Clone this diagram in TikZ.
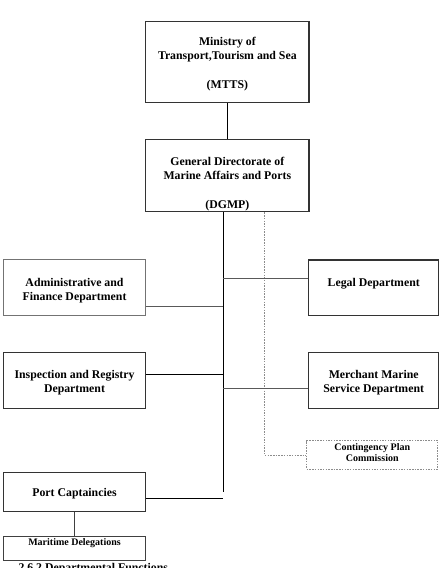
\documentclass[tikz,border=0pt]{standalone}
\usepackage{fontspec}
\setmainfont{Liberation Serif}
\begin{document}
\begin{tikzpicture}[x=1pt,y=-1pt,
  boxthick/.style={draw=black!80,line width=1.5pt,inner sep=0pt},
  boxthin/.style={draw=black!55,line width=0.9pt,inner sep=0pt},
  boxdash/.style={draw=black!45,line width=0.6pt,dash pattern=on 1.5pt off 1.2pt,inner sep=0pt},
  txt/.style={align=center,inner sep=0pt,font=\fontsize{11.8}{13.8}\selectfont\bfseries},
  smalltxt/.style={align=center,inner sep=0pt,font=\fontsize{10}{11}\selectfont\bfseries},
  conn/.style={draw=black,line width=1pt},
  conngray/.style={draw=black!65,line width=1pt},
  dashconn/.style={draw=black!45,line width=0.6pt,dash pattern=on 1.5pt off 1.2pt}]
\useasboundingbox (0,0) rectangle (443,568);

% boxes
\node[boxthick,minimum width=163.3pt,minimum height=81pt] (mttsb) at (227.35,62.2) {};
\node[txt] (mttst) at (227.35,63.8) {Ministry of\\Transport,Tourism and Sea\\[15.2pt](MTTS)};

\node[boxthick,minimum width=163.3pt,minimum height=72.4pt] (dgmpb) at (227.35,175.5) {};
\node[txt] (dgmpt) at (227.35,184.4) {General Directorate of\\Marine Affairs and Ports\\[15.5pt](DGMP)};

\node[boxthin,minimum width=142.4pt,minimum height=56pt] (adminb) at (74.5,287.3) {};
\node[txt] (admint) at (74.5,290.3) {Administrative and\\Finance Department};

\node[boxthick,minimum width=130pt,minimum height=55.3pt] (legalb) at (373.7,287.65) {};
\node[txt] (legalt) at (373.7,283.3) {Legal Department};

\node[boxthick,minimum width=142.4pt,minimum height=56pt] (inspb) at (74.5,380.3) {};
\node[txt] (inspt) at (74.5,382.5) {Inspection and Registry\\Department};

\node[boxthick,minimum width=130pt,minimum height=56pt] (merchb) at (373.7,380.3) {};
\node[txt] (mercht) at (373.7,382.5) {Merchant Marine\\Service Department};

\node[boxdash,minimum width=131pt,minimum height=28.3pt] (contb) at (372.2,454.85) {};
\node[smalltxt] (contt) at (372.2,452.8) {Contingency Plan\\Commission};

\node[boxthick,minimum width=142.4pt,minimum height=39pt] (portb) at (74.5,492.2) {};
\node[txt] (portt) at (74.5,493.3) {Port Captaincies};

\node[draw=black!75,line width=1pt,inner sep=0pt,minimum width=142.4pt,minimum height=23.3pt] (marb) at (74.5,548.35) {};
\node[smalltxt] (mart) at (74.5,543.3) {Maritime Delegations};

\node[txt,anchor=base west] (caption) at (18.3,571.5) {2.6.2 Departmental Functions};

% connectors
\draw[conn,line width=1.3pt] (mttsb.south) -- (dgmpb.north);

\coordinate (trunkend) at (223.3,491.7);
\coordinate (dashx) at (264.3,0);
\draw[conn] (trunkend |- dgmpb.south) -- (trunkend);
\draw[dashconn] (dashx |- dgmpb.south) |- (contb.west);

\coordinate (yadmin) at (0,306.7);
\coordinate (ylegal) at (0,278);
\coordinate (yinsp) at (0,374.3);
\coordinate (ymerch) at (0,388.7);
\coordinate (yport) at (0,498.7);

\draw[conngray] (adminb.east |- yadmin) -- (trunkend |- yadmin);
\draw[conngray] (trunkend |- ylegal) -- (legalb.west |- ylegal);
\draw[conn] (inspb.east |- yinsp) -- (trunkend |- yinsp);
\draw[conngray] (trunkend |- ymerch) -- (merchb.west |- ymerch);
\draw[conn] (portb.east |- yport) -- (trunkend |- yport);

\draw[draw=black!75,line width=1.8pt] (portb.south) -- (marb.north);
\end{tikzpicture}
\end{document}
